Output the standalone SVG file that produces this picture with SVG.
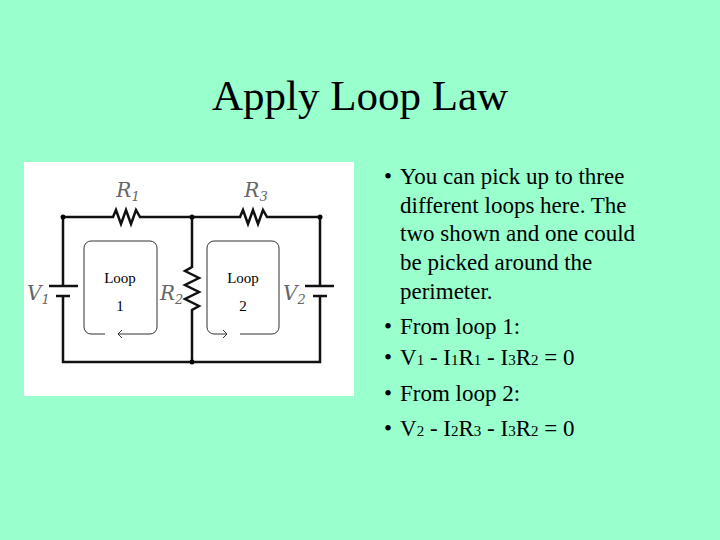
<svg xmlns="http://www.w3.org/2000/svg" width="720" height="540" viewBox="0 0 720 540">
<style>
.t{font-family:"Liberation Serif",serif;fill:#000}
.b{font-size:23px}
.s{font-size:15px}
.w{stroke:#111;stroke-width:2.5;fill:none}
.lp{stroke:#333;stroke-width:1;fill:none}
.lab{font-family:"DejaVu Serif","Liberation Serif",serif;font-style:italic;fill:#666;font-size:20px}
</style>
<rect width="720" height="540" fill="#99ffcc"/>
<text class="t" x="360" y="110" font-size="43" text-anchor="middle">Apply Loop Law</text>
<g id="circuit">
<rect x="24" y="162" width="330" height="234" fill="#fff"/>
<g id="wires">
<path class="w" d="M63 217H113l3 -7 5 14 5 -14 5 14 5 -14 4 7H240l3 -7 5 14 5 -14 5 14 5 -14 4 7H320V286M320 295V362H63V295M63 286V217M192 217V267l-7 4 14 7 -14 7 14 7 -14 7 14 7 -7 4V362"/>
<path class="w" d="M49 286H78M56 296H70M305 286H334M313 296H327"/>
<circle cx="63" cy="217" r="2.5"/><circle cx="192" cy="217" r="2.5"/><circle cx="320" cy="217" r="2.5"/><circle cx="192" cy="362" r="2.5"/>
</g>
<text class="lab" x="128" y="197" text-anchor="middle">R<tspan font-size="13" dy="4">1</tspan></text>
<text class="lab" x="256" y="197" text-anchor="middle">R<tspan font-size="13" dy="4">3</tspan></text>
<text class="lab" x="27" y="300">V<tspan font-size="13" dy="4">1</tspan></text>
<text class="lab" x="160" y="300">R<tspan font-size="13" dy="4">2</tspan></text>
<text class="lab" x="283" y="300">V<tspan font-size="13" dy="4">2</tspan></text>
<g id="loop1">
<path class="lp" d="M105 334H91a7 7 0 0 1-7-7V248a7 7 0 0 1 7-7H150a7 7 0 0 1 7 7V327a7 7 0 0 1-7 7H118l4-4M118 334l4 4"/>
<text class="t s" x="120" y="283" text-anchor="middle">Loop</text>
<text class="t s" x="120" y="311" text-anchor="middle">1</text>
</g>
<g id="loop2">
<path class="lp" d="M240 334H272a7 7 0 0 0 7-7V248a7 7 0 0 0-7-7H214a7 7 0 0 0-7 7V327a7 7 0 0 0 7 7H227l-4-4M227 334l-4 4"/>
<text class="t s" x="243" y="283" text-anchor="middle">Loop</text>
<text class="t s" x="243" y="311" text-anchor="middle">2</text>
</g>
</g>
<g class="t b">
<text x="384" y="184">•</text>
<text x="400" y="184">You can pick up to three</text>
<text x="400" y="213">different loops here. The</text>
<text x="400" y="241">two shown and one could</text>
<text x="400" y="270">be picked around the</text>
<text x="400" y="299">perimeter.</text>
<text x="384" y="334">•</text>
<text x="400" y="334">From loop 1:</text>
<text x="384" y="365">•</text>
<text x="400" y="365">V<tspan font-size="15">1</tspan> - I<tspan font-size="15">1</tspan>R<tspan font-size="15">1</tspan> - I<tspan font-size="15">3</tspan>R<tspan font-size="15">2</tspan> = 0</text>
<text x="384" y="401">•</text>
<text x="400" y="401">From loop 2:</text>
<text x="384" y="436">•</text>
<text x="400" y="436">V<tspan font-size="15">2</tspan> - I<tspan font-size="15">2</tspan>R<tspan font-size="15">3</tspan> - I<tspan font-size="15">3</tspan>R<tspan font-size="15">2</tspan> = 0</text>
</g>
</svg>
